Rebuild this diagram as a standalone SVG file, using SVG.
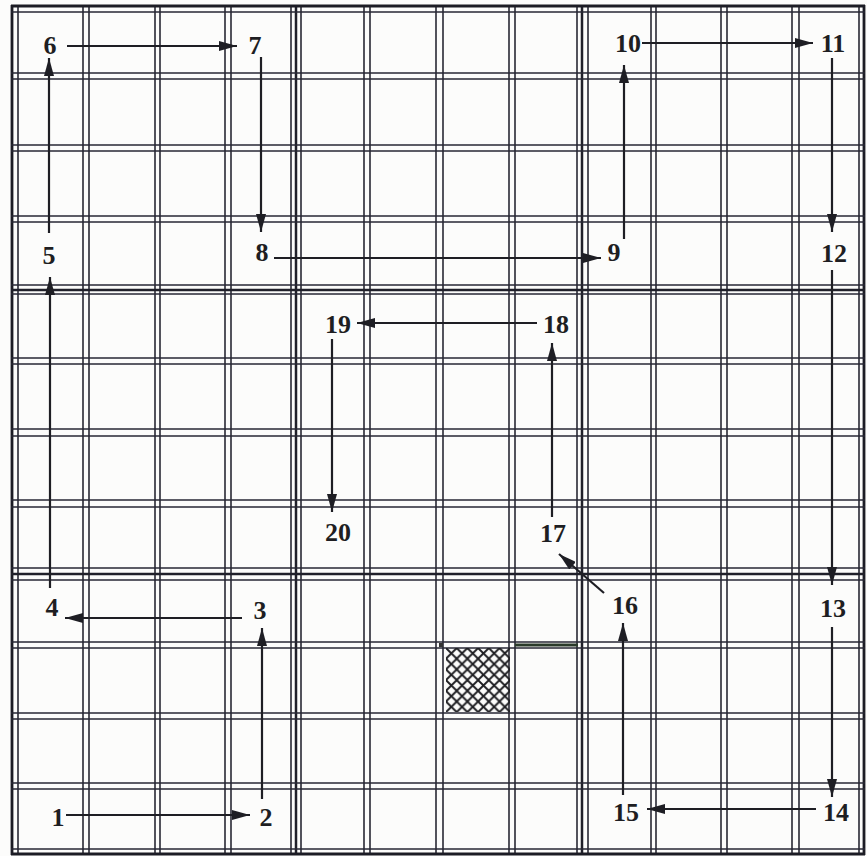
<svg xmlns="http://www.w3.org/2000/svg" width="867" height="856" viewBox="0 0 867 856">
<defs>
<style>
.g{stroke:#272734;stroke-width:1.6;fill:none}
.gt{stroke:#20202a;stroke-width:2.5;fill:none}
.b{stroke:#1c1c25;stroke-width:2.8;fill:none}
.a{stroke:#1e1e24;stroke-width:2.2;fill:none;marker-end:url(#ah)}
text{font-family:"Liberation Serif","Times New Roman",serif;font-weight:bold;font-size:26px;fill:#1e1e22;text-anchor:middle;dominant-baseline:central}
</style>
<marker id="ah" markerUnits="userSpaceOnUse" markerWidth="20" markerHeight="10" refX="18" refY="5" orient="auto">
<path d="M0,0 L18,5 L0,10 z" fill="#1e1e24"/>
</marker>
<pattern id="hatch" patternUnits="userSpaceOnUse" x="446" y="648" width="10.7" height="10.7">
<path d="M0,0 L10.7,10.7 M10.7,0 L0,10.7" stroke="#1e1e22" stroke-width="1.9"/>
</pattern>
</defs>
<rect width="867" height="856" fill="#fcfcfb"/>
<g id="grid">
<line class="b" x1="12" y1="5" x2="12" y2="855"/>
<line class="g" x1="18" y1="5" x2="18" y2="855"/>
<line class="g" x1="83" y1="5" x2="83" y2="855"/>
<line class="g" x1="89" y1="5" x2="89" y2="855"/>
<line class="g" x1="155" y1="5" x2="155" y2="855"/>
<line class="g" x1="160" y1="5" x2="160" y2="855"/>
<line class="g" x1="225" y1="5" x2="225" y2="855"/>
<line class="g" x1="231" y1="5" x2="231" y2="855"/>
<line class="g" x1="291" y1="5" x2="291" y2="855"/>
<line class="gt" x1="296" y1="5" x2="296" y2="855"/>
<line class="g" x1="301" y1="5" x2="301" y2="855"/>
<line class="g" x1="364" y1="5" x2="364" y2="855"/>
<line class="g" x1="370" y1="5" x2="370" y2="855"/>
<line class="g" x1="436" y1="5" x2="436" y2="855"/>
<line class="g" x1="443" y1="5" x2="443" y2="855"/>
<line class="g" x1="509" y1="5" x2="509" y2="855"/>
<line class="g" x1="515" y1="5" x2="515" y2="855"/>
<line class="g" x1="577" y1="5" x2="577" y2="855"/>
<line class="gt" x1="582" y1="5" x2="582" y2="855"/>
<line class="g" x1="588" y1="5" x2="588" y2="855"/>
<line class="g" x1="651" y1="5" x2="651" y2="855"/>
<line class="g" x1="656" y1="5" x2="656" y2="855"/>
<line class="g" x1="721" y1="5" x2="721" y2="855"/>
<line class="g" x1="727" y1="5" x2="727" y2="855"/>
<line class="g" x1="792" y1="5" x2="792" y2="855"/>
<line class="g" x1="799" y1="5" x2="799" y2="855"/>
<line class="g" x1="859" y1="5" x2="859" y2="855"/>
<line class="b" x1="864" y1="5" x2="864" y2="855"/>
<line class="b" x1="11" y1="6" x2="865" y2="6"/>
<line class="g" x1="11" y1="12" x2="865" y2="12"/>
<line class="g" x1="11" y1="73" x2="865" y2="73"/>
<line class="g" x1="11" y1="79" x2="865" y2="79"/>
<line class="g" x1="11" y1="145" x2="865" y2="145"/>
<line class="g" x1="11" y1="151" x2="865" y2="151"/>
<line class="g" x1="11" y1="216" x2="865" y2="216"/>
<line class="g" x1="11" y1="222" x2="865" y2="222"/>
<line class="g" x1="11" y1="285" x2="865" y2="285"/>
<line class="gt" x1="11" y1="290" x2="865" y2="290"/>
<line class="g" x1="11" y1="294" x2="865" y2="294"/>
<line class="g" x1="11" y1="358" x2="865" y2="358"/>
<line class="g" x1="11" y1="364" x2="865" y2="364"/>
<line class="g" x1="11" y1="429" x2="865" y2="429"/>
<line class="g" x1="11" y1="436" x2="865" y2="436"/>
<line class="g" x1="11" y1="500" x2="865" y2="500"/>
<line class="g" x1="11" y1="507" x2="865" y2="507"/>
<line class="g" x1="11" y1="568" x2="865" y2="568"/>
<line class="gt" x1="11" y1="574" x2="865" y2="574"/>
<line class="g" x1="11" y1="580" x2="865" y2="580"/>
<line class="g" x1="11" y1="642" x2="865" y2="642"/>
<line class="g" x1="11" y1="648" x2="865" y2="648"/>
<line class="g" x1="11" y1="713" x2="865" y2="713"/>
<line class="g" x1="11" y1="719" x2="865" y2="719"/>
<line class="g" x1="11" y1="783" x2="865" y2="783"/>
<line class="g" x1="11" y1="789" x2="865" y2="789"/>
<line class="g" x1="11" y1="849" x2="865" y2="849"/>
<line class="b" x1="11" y1="854" x2="865" y2="854"/>
<line stroke="#2a3a2a" stroke-width="3" x1="515" y1="645" x2="578" y2="645"/>
<rect x="439" y="643" width="4" height="4" fill="#333"/>
<rect x="446" y="648" width="64" height="64" fill="url(#hatch)"/>
</g>
<g id="connectors">
<line class="a" x1="66" y1="815" x2="250" y2="815"/>
<line class="a" x1="262" y1="799" x2="262" y2="628"/>
<line class="a" x1="242" y1="618" x2="65" y2="618"/>
<line class="a" x1="50" y1="588" x2="50" y2="277"/>
<line class="a" x1="49" y1="233" x2="49" y2="58"/>
<line class="a" x1="67" y1="46" x2="237" y2="46"/>
<line class="a" x1="261" y1="57" x2="261" y2="232"/>
<line class="a" x1="274" y1="258" x2="601" y2="258"/>
<line class="a" x1="624" y1="239" x2="624" y2="65"/>
<line class="a" x1="642" y1="43" x2="813" y2="43"/>
<line class="a" x1="832" y1="58" x2="832" y2="232"/>
<line class="a" x1="832" y1="270" x2="832" y2="585"/>
<line class="a" x1="832" y1="627" x2="832" y2="797"/>
<line class="a" x1="816" y1="809" x2="647" y2="809"/>
<line class="a" x1="623" y1="795" x2="623" y2="623"/>
<line class="a" x1="604" y1="593" x2="559" y2="554"/>
<line class="a" x1="552" y1="517" x2="552" y2="343"/>
<line class="a" x1="537" y1="323" x2="357" y2="323"/>
<line class="a" x1="332" y1="339" x2="332" y2="512"/>
</g>
<g id="n1"><text x="58" y="817">1</text></g>
<g id="n2"><text x="266" y="817">2</text></g>
<g id="n3"><text x="260" y="610">3</text></g>
<g id="n4"><text x="52" y="607">4</text></g>
<g id="n5"><text x="49" y="255">5</text></g>
<g id="n6"><text x="50" y="45">6</text></g>
<g id="n7"><text x="255" y="45">7</text></g>
<g id="n8"><text x="262" y="252">8</text></g>
<g id="n9"><text x="614" y="252">9</text></g>
<g id="n10"><text x="628" y="43">10</text></g>
<g id="n11"><text x="833" y="43">11</text></g>
<g id="n12"><text x="834" y="253">12</text></g>
<g id="n13"><text x="833" y="608">13</text></g>
<g id="n14"><text x="836" y="812">14</text></g>
<g id="n15"><text x="626" y="812">15</text></g>
<g id="n16"><text x="625" y="605">16</text></g>
<g id="n17"><text x="553" y="533">17</text></g>
<g id="n18"><text x="556" y="324">18</text></g>
<g id="n19"><text x="338" y="324">19</text></g>
<g id="n20"><text x="338" y="532">20</text></g>
</svg>
